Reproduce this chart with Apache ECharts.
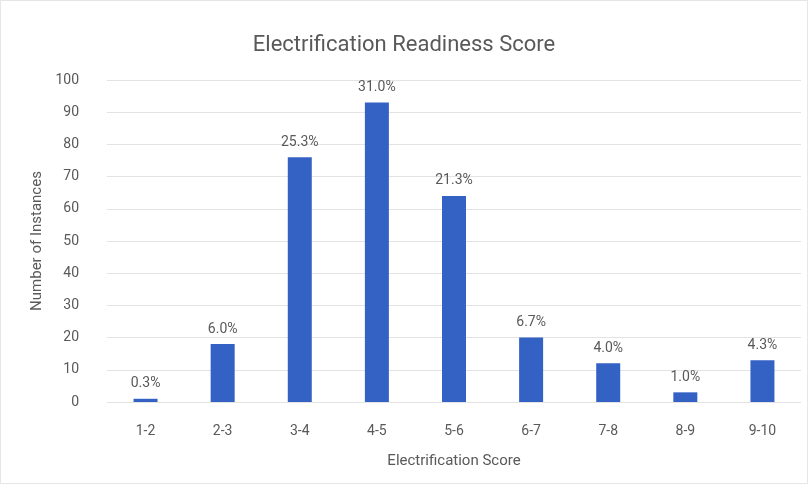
<!DOCTYPE html>
<html>
<head>
<meta charset="utf-8">
<style>
  html, body { margin: 0; padding: 0; background: #fff; }
  #chart { width: 808px; height: 484px; box-sizing: border-box; border: 1px solid #e6e6e6; }
</style>
<script src="https://cdn.jsdelivr.net/npm/echarts@6/dist/echarts.min.js"></script>
</head>
<body>
<div id="chart"></div>
<script>
// score bins and counts (300 instances in total)
var categories = ['1-2', '2-3', '3-4', '4-5', '5-6', '6-7', '7-8', '8-9', '9-10'];
var counts = [1, 18, 76, 93, 64, 20, 12, 3, 13];
var pctLabels = ['0.3%', '6.0%', '25.3%', '31.0%', '21.3%', '6.7%', '4.0%', '1.0%', '4.3%'];

var yTicks = { min: 0, max: 100, interval: 10 };

var chart = echarts.init(document.getElementById('chart'));
var txt = '#595959';
var font = 'Roboto, "Noto Sans", sans-serif';

chart.setOption({
  animation: false,
  title: {
    text: 'Electrification Readiness Score',
    left: 'center',
    top: 28,
    textStyle: { fontSize: 22, fontWeight: 'normal', color: txt, fontFamily: font }
  },
  grid: { left: 106, right: 6, top: 79, bottom: 81 },
  xAxis: {
    type: 'category',
    data: categories,
    name: 'Electrification Score',
    nameLocation: 'middle',
    nameGap: 52,
    nameTextStyle: { fontSize: 15, color: txt, fontFamily: font },
    axisLine: { show: false },
    axisTick: { show: false },
    axisLabel: { fontSize: 14, color: txt, margin: 22, fontFamily: font }
  },
  yAxis: {
    type: 'value',
    min: yTicks.min,
    max: yTicks.max,
    interval: yTicks.interval,
    name: 'Number of Instances',
    nameLocation: 'middle',
    nameGap: 57,
    nameTextStyle: { fontSize: 15, color: txt, fontFamily: font },
    axisLabel: { fontSize: 14, color: txt, margin: 28, fontFamily: font },
    splitLine: { lineStyle: { color: '#e3e3e3' } }
  },
  series: [{
    type: 'bar',
    data: counts,
    barWidth: 24,
    itemStyle: { color: '#3461c4' },
    label: {
      show: true,
      position: 'top',
      distance: 8,
      fontSize: 14,
      color: txt,
      fontFamily: font,
      formatter: function (p) { return pctLabels[p.dataIndex]; }
    }
  }]
});
</script>
</body>
</html>
